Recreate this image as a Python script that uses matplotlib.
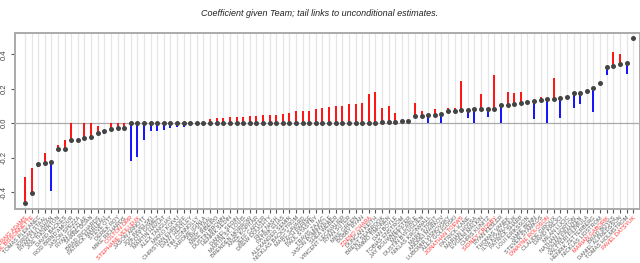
import matplotlib
matplotlib.use("Agg")
import matplotlib.pyplot as plt

players = [
    "CRAIG ADAMS", "PAUL BISSONNETTE", "TOMAS PLEKANEC", "JORDAN STAAL", "RYAN CALLAHAN",
    "JOE THORNTON", "DAVID BACKES", "ROD BRIND'AMOUR", "JASON SPEZZA", "RYAN GETZLAF",
    "SHANE DOAN", "BRAD RICHARDS", "PATRICK MARLEAU", "STEVE OTT", "DEREK ROY",
    "MIKE RICHARDS", "COLTON ORR", "STEPHANE VEILLEUX", "JASON ARNOTT", "JOE PAVELSKI",
    "SCOTT GOMEZ", "MARTIN HAVLAT", "ALEX TANGUAY", "MIKKO KOIVU", "CHRISTIAN EHRHOFF",
    "DANY HEATLEY", "TIM CONNOLLY", "JAROME IGINLA", "ERIC STAAL", "MIKE RIBEIRO",
    "DUSTIN BROWN", "HENRIK SEDIN", "DANIEL SEDIN", "MARTIN ST. LOUIS", "BRENDEN MORROW",
    "ANZE KOPITAR", "JEFF CARTER", "DREW DOUGHTY", "RICK NASH", "PATRIK ELIAS",
    "ALEXANDER SEMIN", "NICKLAS BACKSTROM", "MARC SAVARD", "ZACH PARISE", "PAUL STASTNY",
    "TRAVIS ZAJAC", "JASON POMINVILLE", "SHEA WEBER", "VINCENT LECAVALIER", "RYAN SUTER",
    "MIKE GREEN", "BOBBY RYAN", "ZDENO CHARA", "DUNCAN KEITH", "BRENT SEABROOK",
    "KIMMO TIMONEN", "DAN BOYLE", "TOBIAS ENSTROM", "JAY BOUWMEESTER", "MATT CARLE",
    "DUSTIN BYFUGLIEN", "NIKLAS KRONWALL", "MARK STREIT", "ANDREI MARKOV", "LUBOMIR VISNOVSKY",
    "ALEX GOLIGOSKI", "JONATHAN TOEWS", "PATRICK KANE", "MARIAN HOSSA", "EVGENI MALKIN",
    "CHRIS KUNITZ", "SIDNEY CROSBY", "RYAN KESLER", "THOMAS VANEK", "ILYA KOVALCHUK",
    "PATRICK SHARP", "LOUI ERIKSSON", "JAMIE BENN", "STEVEN STAMKOS", "DWAYNE ROLOSON",
    "CLAUDE GIROUX", "DAVID KREJCI", "MILAN LUCIC", "NATHAN HORTON", "JOHAN FRANZEN",
    "VALTTERI FILPPULA", "HENRIK ZETTERBERG", "NICKLAS LIDSTROM", "MARIAN GABORIK", "BRAD BOYES",
    "DANIEL ALFREDSSON", "TOMAS HOLMSTROM", "PAVEL DATSYUK",
]

conditional = [
    -0.462, -0.406, -0.238, -0.232, -0.226, -0.149, -0.147, -0.097, -0.095, -0.085,
    -0.077, -0.054, -0.045, -0.033, -0.029, -0.025, 0.0, 0.0, 0.0, 0.0,
    0.0, 0.0, 0.0, 0.0, 0.0, 0.0, 0.0, 0.0, 0.0, 0.0,
    0.0, 0.0, 0.0, 0.0, 0.0, 0.0, 0.0, 0.0, 0.0, 0.0,
    0.0, 0.0, 0.0, 0.0, 0.0, 0.0, 0.0, 0.0, 0.0, 0.0,
    0.0, 0.0, 0.0, 0.0, 0.006, 0.008, 0.010, 0.012, 0.014, 0.040,
    0.040, 0.046, 0.050, 0.052, 0.070, 0.073, 0.077, 0.079, 0.081, 0.083,
    0.085, 0.085, 0.104, 0.104, 0.110, 0.118, 0.124, 0.128, 0.133, 0.141,
    0.141, 0.149, 0.155, 0.174, 0.176, 0.188, 0.203, 0.232, 0.327, 0.333,
    0.342, 0.352, 0.494,
]

unconditional = [
    -0.310, -0.257, -0.255, -0.174, -0.392, -0.126, -0.097, 0.0, -0.095, 0.0,
    0.0, -0.014, -0.060, 0.0, 0.0, 0.0, -0.218, -0.193, -0.097, -0.045,
    -0.042, -0.040, -0.030, -0.020, -0.020, 0.0, 0.0, 0.0, 0.025, 0.029,
    0.033, 0.035, 0.035, 0.035, 0.043, 0.045, 0.047, 0.049, 0.050, 0.054,
    0.058, 0.072, 0.072, 0.074, 0.081, 0.090, 0.093, 0.099, 0.102, 0.110,
    0.110, 0.118, 0.170, 0.182, 0.090, 0.100, 0.060, 0.012, 0.014, 0.120,
    0.070, 0.0, 0.085, 0.0, 0.089, 0.087, 0.247, 0.029, 0.0, 0.168,
    0.035, 0.282, 0.0, 0.182, 0.176, 0.182, 0.124, 0.025, 0.155, 0.0,
    0.265, 0.033, 0.141, 0.091, 0.112, 0.188, 0.066, 0.232, 0.278, 0.412,
    0.401, 0.284, 0.494,
]

highlighted = [
    "CRAIG ADAMS", "PAUL BISSONNETTE", "COLTON ORR", "STEPHANE VEILLEUX", "ZDENO CHARA",
    "JONATHAN TOEWS", "SIDNEY CROSBY", "DWAYNE ROLOSON", "MARIAN GABORIK", "PAVEL DATSYUK",
]

plt.rcParams['font.family'] = ['Liberation Sans', 'DejaVu Sans']

fig = plt.figure(figsize=(6.4, 2.63), dpi=100)
ax = fig.add_axes([15 / 640, 1 - 209.3 / 263, 1 - 15 / 640, (209.3 - 32.7) / 263])

x = list(range(1, len(players) + 1))

for xi in x:
    ax.axvline(xi, color='#e6e6e6', lw=0.9, zorder=0)
ax.axhline(0, color='#aaaaaa', lw=0.9, zorder=1)

for xi, c, u in zip(x, conditional, unconditional):
    if u != c:
        ax.plot([xi, xi], [c, u], color='red' if u > c else 'blue', lw=1.3,
                solid_capstyle='butt', zorder=2)

ax.plot(x, conditional, 'o', color='#444444', markersize=3.6, markeredgewidth=0, zorder=3)

ax.set_xlim(1 - 10 / 6.61, 1 + 615 / 6.61)
ax.set_ylim(-0.4986, 0.525)

ax.set_yticks([-0.4, -0.2, 0.0, 0.2, 0.4])
ax.set_yticklabels(["-0.4", "-0.2", "0.0", "0.2", "0.4"], rotation=90, va='center',
                   fontsize=5.5, color='#444444')
ax.set_xticks(x)
ax.set_xticklabels(players, rotation=45, ha='right', rotation_mode='anchor', fontsize=4.1)
for lab in ax.get_xticklabels():
    lab.set_color('#ff3030' if lab.get_text() in highlighted else '#555555')

ax.tick_params(axis='x', length=3, width=0.8, color='#555555', pad=1.2)
ax.tick_params(axis='y', length=3, width=0.8, color='#555555', pad=2)

for s in ax.spines.values():
    s.set_color('#aaaaaa')
    s.set_linewidth(1.4)

fig.text(0.5, 1 - 13 / 263, "Coefficient given Team; tail links to unconditional estimates.",
         ha='center', va='center', fontsize=6.5, style='italic', color='#222222')

fig.savefig("out.png", dpi=100)
